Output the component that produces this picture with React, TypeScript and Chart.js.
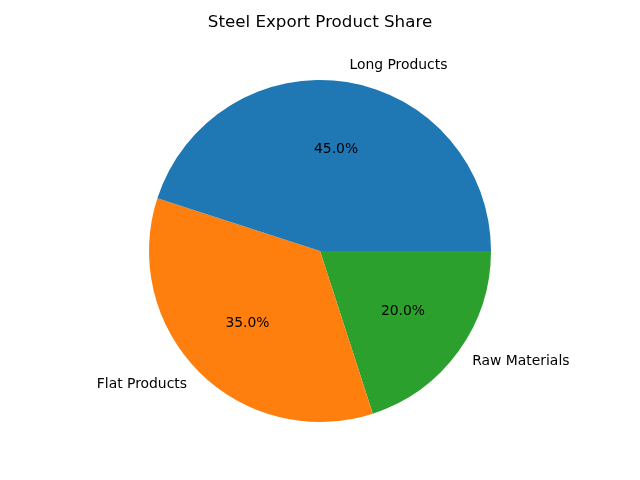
import { Chart, registerables } from "chart.js"
import React, { useEffect, useRef } from "react"

Chart.register(...registerables)

// matplotlib draws counter-clockwise from 3 o'clock, Chart.js clockwise,
// so the slices are listed in reverse order
const categories = ["Long Products", "Flat Products", "Raw Materials"]
const shares = [45, 35, 20]
const colors = ["#1f77b4", "#ff7f0e", "#2ca02c"]
const title = "Steel Export Product Share"

const FONT = "'DejaVu Sans', sans-serif"

const pieLabels = {
  id: "pieLabels",
  afterDraw(chart: Chart) {
    const ctx = chart.ctx
    const meta = chart.getDatasetMeta(0)
    const total = (chart.data.datasets[0].data as number[]).reduce((a, b) => a + b, 0)
    ctx.save()
    ctx.fillStyle = "#000"
    meta.data.forEach((el: any, i: number) => {
      const mid = (el.startAngle + el.endAngle) / 2
      const r = el.outerRadius
      const cx = el.x
      const cy = el.y
      const value = chart.data.datasets[0].data[i] as number
      ctx.font = `13.9px ${FONT}`
      // percentage inside
      ctx.textAlign = "center"
      ctx.textBaseline = "middle"
      ctx.fillText(((value / total) * 100).toFixed(1) + "%", cx + Math.cos(mid) * r * 0.6, cy + Math.sin(mid) * r * 0.6)
      // category outside
      const lx = cx + Math.cos(mid) * r * 1.1
      const ly = cy + Math.sin(mid) * r * 1.1
      ctx.textAlign = Math.cos(mid) >= 0 ? "left" : "right"
      ctx.fillText(chart.data.labels![i] as string, lx, ly)
    })
    ctx.font = `16.7px ${FONT}`
    ctx.textAlign = "center"
    ctx.textBaseline = "middle"
    ctx.fillText(title, 320, 23)
    ctx.restore()
  },
}

const App: React.FC = () => {
  const canvasRef = useRef<HTMLCanvasElement>(null)

  useEffect(() => {
    const ctx = canvasRef.current?.getContext("2d")
    if (!ctx) return
    const order = [2, 1, 0]
    const chart = new Chart(ctx, {
      type: "pie",
      data: {
        labels: order.map((i) => categories[i]),
        datasets: [
          {
            data: order.map((i) => shares[i]),
            backgroundColor: order.map((i) => colors[i]),
            borderWidth: 0,
          },
        ],
      },
      options: {
        responsive: false,
        animation: false,
        rotation: 90,
        layout: { padding: { top: 80, bottom: 58, left: 0, right: 0 } },
        plugins: {
          legend: { display: false },
          title: { display: false },
          tooltip: { enabled: false },
        },
      },
      plugins: [pieLabels],
    })
    return () => chart.destroy()
  }, [])

  return (
    <div style={{ position: "fixed", left: 0, top: 0, width: 640, height: 480, background: "#fff" }}>
      <canvas ref={canvasRef} width={640} height={480}></canvas>
    </div>
  )
}

export default App
